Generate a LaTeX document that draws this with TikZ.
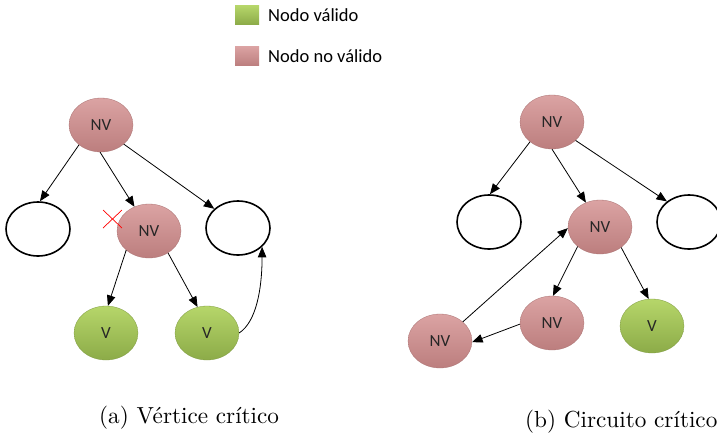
\documentclass[tikz,border=0pt]{standalone}
\usepackage{fontspec}
\newfontfamily\carlito{Carlito}
\newfontfamily\lmten{lmroman10-regular}[Extension=.otf]
\usetikzlibrary{arrows.meta,shapes.geometric}
\definecolor{pinkT}{HTML}{DBA3A3}
\definecolor{pinkM}{HTML}{C98989}
\definecolor{pinkB}{HTML}{BC7E7E}
\definecolor{greenT}{HTML}{B6D66A}
\definecolor{greenM}{HTML}{9DBE58}
\definecolor{greenB}{HTML}{8CAB48}
\tikzset{
  vnode/.style={ellipse, minimum width=64pt, minimum height=54pt, inner sep=0pt},
  nv/.style={vnode, top color=pinkT, middle color=pinkM, bottom color=pinkB,
    draw=pinkB!90!black, line width=0.3pt, font=\carlito\fontsize{17}{18}\selectfont, text=black!85},
  vv/.style={vnode, top color=greenT, middle color=greenM, bottom color=greenB,
    draw=greenB!90!black, line width=0.3pt, font=\carlito\fontsize{17}{18}\selectfont, text=black!85},
  empty/.style={vnode, draw=black, line width=1.6pt, fill=white},
  edge/.style={-{Triangle[length=10.5pt,width=8.5pt]}, line width=0.8pt, black},
  legbox/.style={rectangle, minimum width=24pt, minimum height=19pt, inner sep=0pt},
  legtext/.style={anchor=west, font=\carlito\fontsize{18.5}{20}\selectfont, inner sep=0pt},
  caption/.style={anchor=base west, inner sep=0pt, font=\lmten\fontsize{23.2}{26}\selectfont}
}
\begin{document}
\begin{tikzpicture}[x=1pt, y=-1pt]
\useasboundingbox (0,0) rectangle (717,437);

% legend
\node[legbox, top color=greenT, bottom color=greenB] (lg) at (247,15) {};
\node[legtext] (lgt) at (268,15) {Nodo válido};
\node[legbox, top color=pinkT, bottom color=pinkB] (lp) at (247,56) {};
\node[legtext] (lpt) at (268,56) {Nodo no válido};

% (a) critical vertex
\node[nv] (t1) at (101,125) {NV};
\node[empty] (e1) at (38,229) {};
\node[nv] (m1) at (149,231) {NV};
\node[empty] (e2) at (238,228) {};
\node[vv] (v1) at (106,333) {V};
\node[vv] (v2) at (207,333) {V};

\draw[edge] (t1.222) -- (e1.86);
\draw[edge] (t1.268) -- (m1.121);
\draw[edge] (t1.320) -- (e2.141);
\draw[edge] (m1.220) -- (v1.86);
\draw[edge] (m1.311) -- (v2.110);
\draw[edge] (v2.east) .. controls (256,322) and (262,290) .. (e2.322);

% cross mark on the critical vertex
\draw[red, line width=0.7pt] (103,210) -- (122,228) (122,210) -- (103,228);

% (b) critical circuit
\node[nv] (t2) at (552,122) {NV};
\node[empty] (e3) at (489,222) {};
\node[nv] (m2) at (600,227) {NV};
\node[empty] (e4) at (689,222) {};
\node[nv] (n1) at (552,323) {NV};
\node[nv] (n2) at (440,341) {NV};
\node[vv] (v3) at (652,326) {V};

\draw[edge] (t2.222) -- (e3.88);
\draw[edge] (t2.270) -- (m2.120);
\draw[edge] (t2.322) -- (e4.137);
\draw[edge] (m2.221) -- (n1.88);
\draw[edge] (m2.316) -- (v3.97);
\draw[edge] (n1.182) -- (n2.358);
\draw[edge] (n2.40) -- (m2.182);

% captions
\node[caption] (ca) at (99,423) {(a) Vértice crítico};
\node[caption] (cb) at (525,427) {(b) Circuito crítico};
\end{tikzpicture}
\end{document}
